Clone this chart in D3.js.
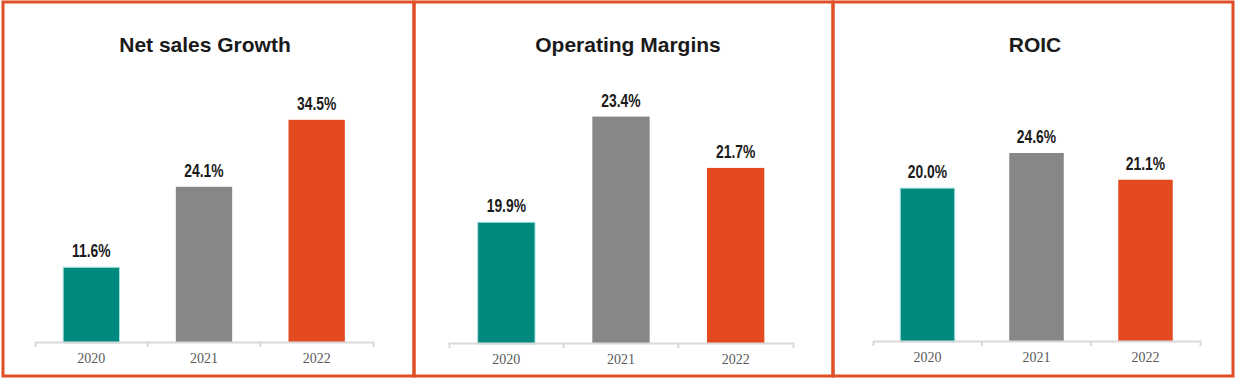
<!DOCTYPE html>
<html>
<head>
<meta charset="utf-8">
<script src="https://cdn.jsdelivr.net/npm/d3@7"></script>
<style>
  body { margin: 0; background: #fff; }
  svg { display: block; }
  .title { font-family: "Liberation Sans", Arial, sans-serif; font-weight: bold; font-size: 21px; fill: #1a1a1a; }
  .val { font-family: "Liberation Sans", Arial, sans-serif; font-weight: bold; font-size: 18px; fill: #1a1a1a; }
  .axis text { font-family: "Liberation Serif", "Times New Roman", serif; font-size: 14px; fill: #595959; }
</style>
</head>
<body>
<svg id="chart" width="1238" height="378"></svg>
<script>
var years = ["2020", "2021", "2022"];
var titles = ["Net sales Growth", "Operating Margins", "ROIC"];
var netSales = [11.6, 24.1, 34.5];
var opMargins = [19.9, 23.4, 21.7];
var roic = [20.0, 24.6, 21.1];
var series = [netSales, opMargins, roic];
var barColors = ["#00897f", "#878787", "#e34a20"];

// layout of each panel (box, axis span, baseline, value domain)
var panels = [
  { x0: 3, x1: 414, ax0: 35, ax1: 373, base: 342, titleX: 205, dom: [0, 50] },
  { x0: 414, x1: 833, ax0: 449, ax1: 793, base: 343, titleX: 628, dom: [15.9, 26.6] },
  { x0: 833, x1: 1233, ax0: 873, ax1: 1200, base: 341, titleX: 1035, dom: [0, 42] }
];

var svg = d3.select('#chart');

panels.forEach(function (p, i) {
  var vals = series[i];
  var g = svg.append('g');

  g.append('rect')
    .attr('x', p.x0)
    .attr('y', 2)
    .attr('width', p.x1 - p.x0)
    .attr('height', 374)
    .attr('fill', 'none')
    .attr('stroke', '#e04f25')
    .attr('stroke-width', 3);

  g.append('text')
    .attr('class', 'title')
    .attr('x', p.titleX)
    .attr('y', 52)
    .attr('text-anchor', 'middle')
    .text(titles[i]);

  var x = d3.scaleBand()
    .domain(years)
    .range([p.ax0, p.ax1])
    .paddingInner(0.5)
    .paddingOuter(0.25);

  var y = d3.scaleLinear()
    .domain(p.dom)
    .range([p.base, 20]);

  var data = years.map(function (yr, j) { return { year: yr, v: vals[j], c: barColors[j] }; });

  g.selectAll('rect.bar')
    .data(data).enter()
    .append('rect')
    .attr('class', 'bar')
    .attr('x', function (d) { return x(d.year); })
    .attr('y', function (d) { return y(d.v); })
    .attr('width', x.bandwidth())
    .attr('height', function (d, j) { return p.base - y(d.v) + (j === 0 ? 1 : 0); })
    .attr('fill', function (d) { return d.c; })
    .attr('stroke', function (d, j) { return j === 0 ? '#a8e0dc' : 'none'; })
    .attr('stroke-width', 1);

  // condensed look: squeeze the bold labels horizontally
  g.selectAll('text.val')
    .data(data).enter()
    .append('text')
    .attr('class', 'val')
    .attr('transform', function (d) {
      return 'translate(' + (x(d.year) + x.bandwidth() / 2) + ',' + (y(d.v) - 10) + ') scale(0.77,1)';
    })
    .attr('text-anchor', 'middle')
    .text(function (d) { return d.v.toFixed(1) + '%'; });

  var ax = g.append('g')
    .attr('class', 'axis')
    .attr('transform', 'translate(0,' + p.base + ')')
    .call(d3.axisBottom(x).tickSize(0).tickSizeOuter(5).tickPadding(11));
  ax.select('.domain').attr('stroke', '#d9d9d9').attr('stroke-width', 2);

  // category separators
  var step = x.step();
  ax.selectAll('line.sep')
    .data(years.slice(1)).enter()
    .append('line')
    .attr('class', 'sep')
    .attr('x1', function (d) { return x(d) - step * x.paddingInner() / 2; })
    .attr('x2', function (d) { return x(d) - step * x.paddingInner() / 2; })
    .attr('y1', 0)
    .attr('y2', 5)
    .attr('stroke', '#d9d9d9')
    .attr('stroke-width', 2);
});
</script>
</body>
</html>
